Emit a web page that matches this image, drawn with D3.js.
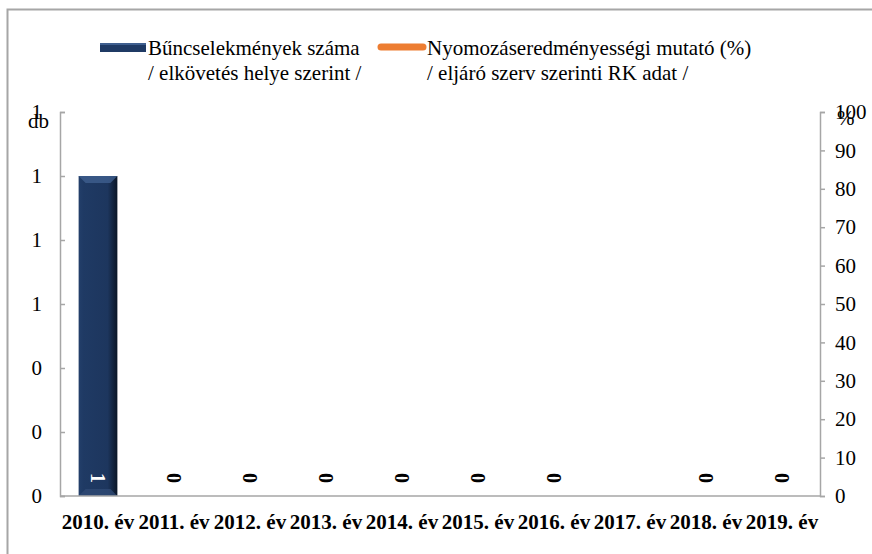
<!DOCTYPE html>
<html>
<head>
<meta charset="utf-8">
<script src="https://cdn.jsdelivr.net/npm/d3@7"></script>
<style>
  html, body { margin: 0; padding: 0; background: #fff; }
  svg { display: block; }
  text { font-family: "Liberation Serif", "Times New Roman", serif; }
</style>
</head>
<body>
<svg id="chart" width="872" height="554"></svg>
<script>
const categories = ["2010. év","2011. év","2012. év","2013. év","2014. év","2015. év","2016. év","2017. év","2018. év","2019. év"];
const crimeCounts = [1, 0, 0, 0, 0, 0, 0, null, 0, 0];
const clearanceRate = [null, null, null, null, null, null, null, null, null, null];
const leftTicks = [0, 0.2, 0.4, 0.6, 0.8, 1.0, 1.2];
const rightTicks = [0, 10, 20, 30, 40, 50, 60, 70, 80, 90, 100];
const legendLabels = [
  ["Bűncselekmények száma", "/ elkövetés helye szerint /"],
  ["Nyomozáseredményességi mutató (%)", "/ eljáró szerv szerinti RK adat /"]
];
const leftUnit = "db";
const rightUnit = "%";

const svg = d3.select("#chart");
const W = 872, H = 554;
const plot = { left: 60, right: 820, top: 112, bottom: 496 };

// outer border
svg.append("rect").attr("x", 7.5).attr("y", 9.5).attr("width", W + 20).attr("height", H + 20)
  .attr("fill", "#fff").attr("stroke", "#a6a6a6").attr("stroke-width", 2);

const x = d3.scaleBand().domain(categories).range([plot.left, plot.right]).padding(0);
const yL = d3.scaleLinear().domain([0, 1.2]).range([plot.bottom, plot.top]);
const yR = d3.scaleLinear().domain([0, 100]).range([plot.bottom, plot.top]);

const defs = svg.append("defs");
const g1 = defs.append("linearGradient").attr("id", "barH").attr("x1", 0).attr("x2", 1).attr("y1", 0).attr("y2", 0);
g1.append("stop").attr("offset", "0%").attr("stop-color", "#233f6a");
g1.append("stop").attr("offset", "12%").attr("stop-color", "#1f3a64");
g1.append("stop").attr("offset", "75%").attr("stop-color", "#1d365e");
g1.append("stop").attr("offset", "100%").attr("stop-color", "#0a1526");

const barW = x.bandwidth() * 0.51;

// bars
const bars = svg.append("g");
crimeCounts.forEach((v, i) => {
  if (v == null || v === 0) return;
  const cx = x(categories[i]) + x.bandwidth() / 2;
  const x0 = cx - barW / 2, y0 = yL(v), y1 = yL(0);
  bars.append("rect").attr("x", x0).attr("y", y0).attr("width", barW).attr("height", y1 - y0)
    .attr("fill", "url(#barH)");
  const b = 7;
  bars.append("path")
    .attr("d", `M${x0},${y0} L${x0 + barW},${y0} L${x0 + barW - b},${y0 + b} L${x0 + b},${y0 + b} Z`)
    .attr("fill", "#3f5f8f").attr("opacity", 0.8);
  bars.append("path")
    .attr("d", `M${x0},${y1} L${x0 + barW},${y1} L${x0 + barW - b},${y1 - b} L${x0 + b},${y1 - b} Z`)
    .attr("fill", "#2f4a74").attr("opacity", 0.8);
});

// axes
const axL = d3.axisLeft(yL).tickValues(leftTicks).tickFormat(d3.format(".0f")).tickSize(-5).tickPadding(18);
const gL = svg.append("g").attr("transform", `translate(${plot.left},0)`).call(axL);
const axR = d3.axisRight(yR).tickValues(rightTicks).tickFormat(d3.format("d")).tickSize(5).tickPadding(10);
const gR = svg.append("g").attr("transform", `translate(${plot.right},0)`).call(axR);
[gL, gR].forEach(g => {
  g.select(".domain").attr("stroke", "#a6a6a6").attr("stroke-width", 1.5);
  g.selectAll(".tick line").attr("stroke", "#a6a6a6").attr("stroke-width", 1.5);
  g.selectAll(".tick text").attr("font-size", 21).attr("font-family", "Liberation Serif").attr("fill", "#000");
});

// x axis line
svg.append("line").attr("x1", plot.left).attr("x2", plot.right).attr("y1", plot.bottom).attr("y2", plot.bottom)
  .attr("stroke", "#a6a6a6").attr("stroke-width", 1.5);

// x labels
svg.append("g").selectAll("text").data(categories).join("text")
  .attr("x", d => x(d) + x.bandwidth() / 2)
  .attr("y", 529)
  .attr("text-anchor", "middle")
  .attr("font-size", 21).attr("font-weight", "bold")
  .text(d => d);

// data labels
svg.append("g").selectAll("text").data(crimeCounts.map((v, i) => ({ v, c: categories[i] })).filter(d => d.v != null))
  .join("text")
  .attr("transform", d => `translate(${x(d.c) + x.bandwidth() / 2},${plot.bottom - 18}) rotate(90)`)
  .attr("text-anchor", "middle")
  .attr("dominant-baseline", "central")
  .attr("font-size", 20).attr("font-weight", "bold")
  .attr("fill", d => d.v > 0 ? "#fff" : "#000")
  .text(d => d.v);

// line series (no values present)
const line = d3.line().defined(d => d != null)
  .x((d, i) => x(categories[i]) + x.bandwidth() / 2).y(d => yR(d));
svg.append("path").datum(clearanceRate).attr("d", line)
  .attr("fill", "none").attr("stroke", "#ed7d31").attr("stroke-width", 4);

// unit labels
svg.append("text").attr("x", 28).attr("y", 128).attr("font-size", 21).text(leftUnit);
svg.append("text").attr("x", 837).attr("y", 125).attr("font-size", 21).text(rightUnit);

// legend
const lg = svg.append("g");
lg.append("rect").attr("x", 100).attr("y", 43).attr("width", 46).attr("height", 9).attr("fill", "#1f3a64");
lg.append("rect").attr("x", 100).attr("y", 43).attr("width", 46).attr("height", 2).attr("fill", "#3f5f8f");
lg.append("line").attr("x1", 381).attr("x2", 423).attr("y1", 47).attr("y2", 47)
  .attr("stroke", "#ed7d31").attr("stroke-width", 7).attr("stroke-linecap", "round");
[[148, 0], [427, 1]].forEach(([lx, k]) => {
  legendLabels[k].forEach((t, j) => {
    lg.append("text").attr("x", lx).attr("y", 55 + j * 25).attr("font-size", 21).text(t);
  });
});
</script>
</body>
</html>
